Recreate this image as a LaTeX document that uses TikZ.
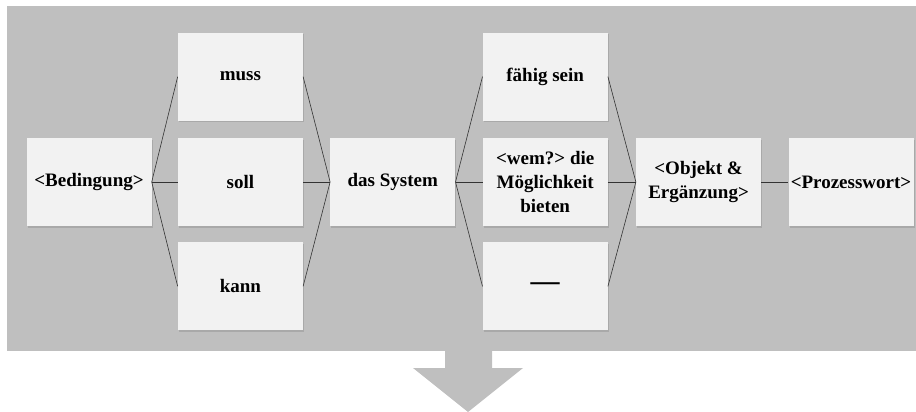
\documentclass[tikz,border=0pt]{standalone}
\usepackage{fontspec}
\setmainfont{Liberation Serif}
\usetikzlibrary{positioning,shadows}

\tikzset{
  satzteil/.style={fill=black!5, minimum width=125pt, minimum height=88pt,
    inner sep=2pt, align=center, font=\bfseries\fontsize{19}{24}\selectfont,
    drop shadow={shadow xshift=1pt, shadow yshift=-1.5pt, opacity=0.35}},
  verbindung/.style={black!80, line width=0.6pt},
}

\begin{document}
\begin{tikzpicture}[x=1pt, y=-1pt, node distance=17pt and 27pt]
  \useasboundingbox (0,0) rectangle (916,412);
  % Hintergrund und Pfeil
  \fill[black!25] (7,6) rectangle (916,351);
  \fill[black!25] (445,351) -- (492,351) -- (492,368) -- (523,368)
    -- (468,412) -- (413,368) -- (445,368) -- cycle;

  % erste Spalte
  \node[satzteil] (bed) at (89,182) {<Bedingung>};
  % Modalverben
  \node[satzteil, right=26pt of bed] (soll) {soll};
  \node[satzteil, above=of soll] (muss) {muss};
  \node[satzteil, below=16pt of soll] (kann) {kann};
  \node[satzteil, right=of soll] (sys) {das System};
  % Zusatz
  \node[satzteil, right=of sys] (wem) {<wem?> die\\ Möglichkeit\\ bieten};
  \node[satzteil, above=of wem] (faehig) {fähig sein};
  \node[satzteil, below=16pt of wem] (leer) {\raisebox{-3pt}{\fontsize{29}{29}\selectfont —}};
  \node[satzteil, right=28pt of wem] (obj) {<Objekt \&\\ Ergänzung>};
  \node[satzteil, right=of obj] (proz) {<Prozesswort>};

  % Verbindungen
  \foreach \m in {muss,soll,kann}{
    \draw[verbindung] (bed.east) -- (\m.west);
    \draw[verbindung] (\m.east) -- (sys.west);
  }
  \foreach \z in {faehig,wem,leer}{
    \draw[verbindung] (sys.east) -- (\z.west);
    \draw[verbindung] (\z.east) -- (obj.west);
  }
  \draw[verbindung] (obj) -- (proz);
\end{tikzpicture}
\end{document}
